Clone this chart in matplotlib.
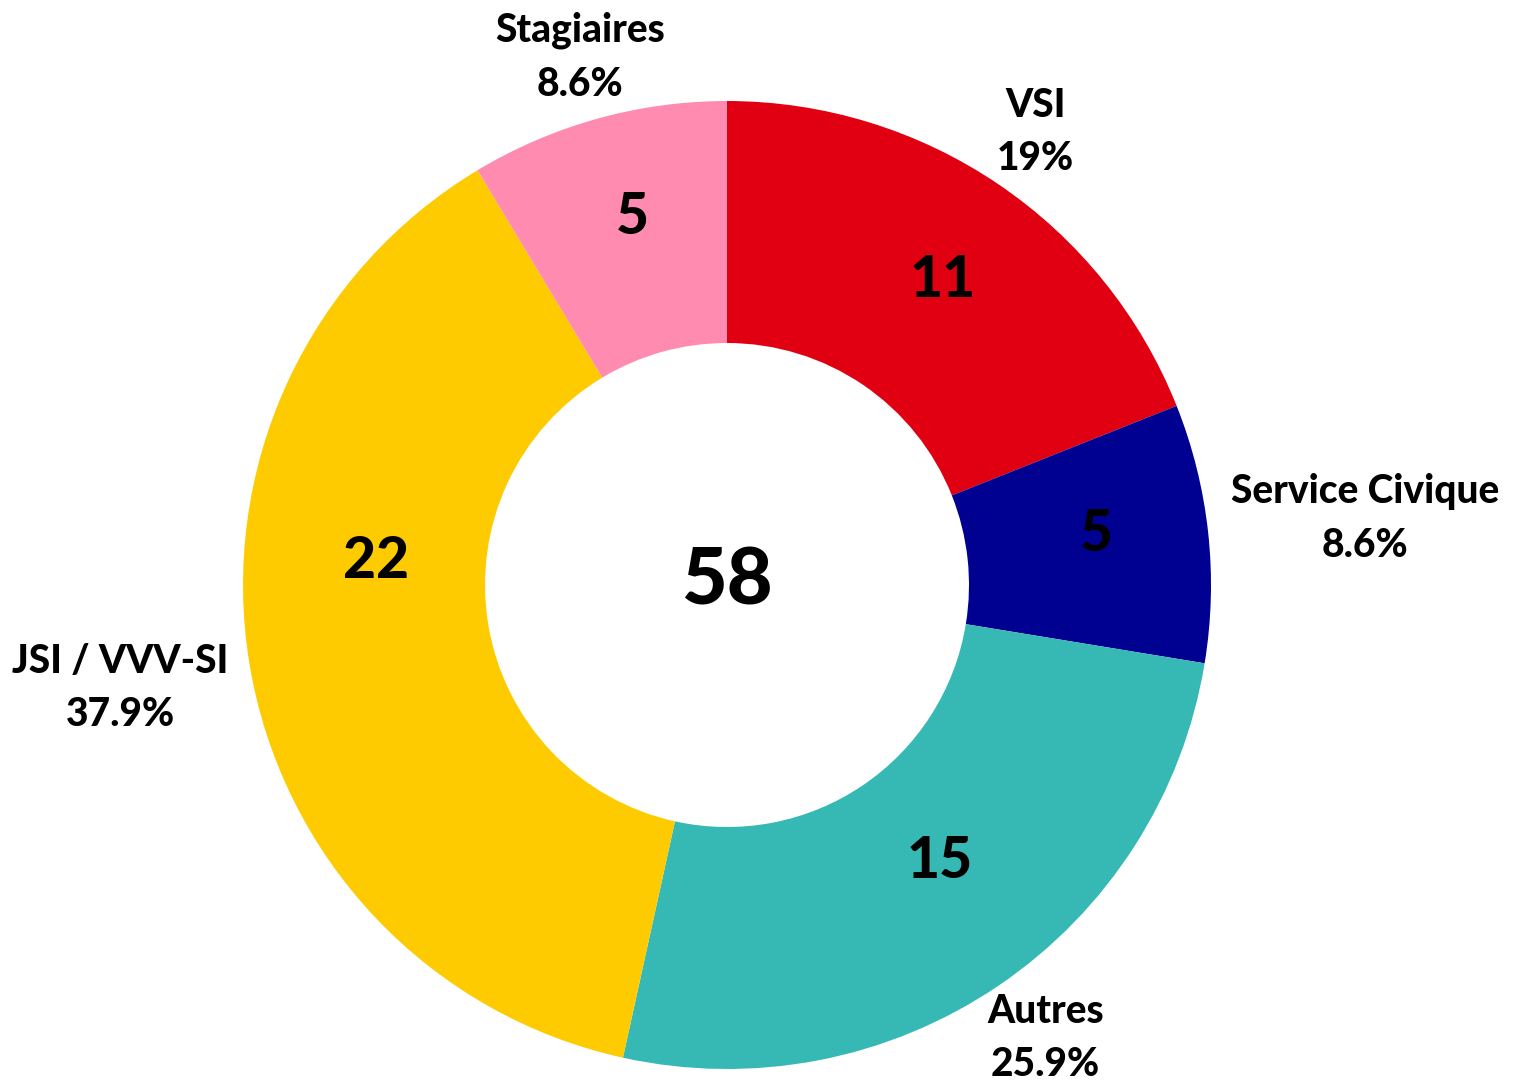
import numpy as np
import matplotlib
matplotlib.use("Agg")
import matplotlib.pyplot as plt

categories = ["VSI", "Service Civique", "Autres", "JSI / VVV-SI", "Stagiaires"]
values = [11, 5, 15, 22, 5]
colors = ["#E10012", "#000091", "#36B9B5", "#FECA00", "#FF8BB0"]
total_label = "58"

W, H = 1515, 1092
CX, CY, R = 727, 585, 484

fig = plt.figure(figsize=(W / 100, H / 100), dpi=100)
ax = fig.add_axes([0, 0, 1, 1])
ax.pie(values, colors=colors, startangle=90, counterclock=False, radius=1,
       wedgeprops=dict(width=0.5, linewidth=0), center=(0, 0))
ax.set_xlim(-CX / R, (W - CX) / R)
ax.set_ylim(-(H - CY) / R, CY / R)
ax.set_aspect('auto')
ax.axis('off')

FONT = ['Lato', 'DejaVu Sans']
total = sum(values)
cum = np.cumsum([0] + values)

# fine adjustments (px) for label placement, matching reference layout
outer_adj = {"Service Civique": (91, -7), "JSI / VVV-SI": (-64, 14), "Autres": (10, -2),
             "VSI": (0, 2), "Stagiaires": (0, 2)}
inner_adj = {"JSI / VVV-SI": (7, -82), "Autres": (9, -24), "Service Civique": (9, -11),
             "VSI": (12, -4), "Stagiaires": (2, -18)}

for i, (cat, v) in enumerate(zip(categories, values)):
    mid = (cum[i] + v / 2) / total * 2 * np.pi  # clockwise from top
    # outer label
    r_out = 550
    px = CX + r_out * np.sin(mid)
    py = CY - r_out * np.cos(mid)
    dx, dy = outer_adj.get(cat, (0, 0))
    px += dx
    py += dy
    pct = 100 * v / total
    pct_txt = f"{pct:.1f}".rstrip('0').rstrip('.') + "%"
    ax.text((px - CX) / R, (CY - py) / R, f"{cat}\n{pct_txt}", ha='center', va='center',
            fontsize=28, fontweight='black', family=FONT, linespacing=1.55, color='black')
    # inner value
    r_in = 363
    qx = CX + r_in * np.sin(mid)
    qy = CY - r_in * np.cos(mid)
    dx, dy = inner_adj.get(cat, (0, 0))
    qx += dx
    qy += dy
    ax.text((qx - CX) / R, (CY - qy) / R, str(v), ha='center', va='center',
            fontsize=41, fontweight='black', family=FONT, color='black')

ax.text(0, (CY - 582) / R, total_label, ha='center', va='center', fontsize=57,
        fontweight='black', family=FONT, color='black')

fig.savefig("out.png", dpi=100)
